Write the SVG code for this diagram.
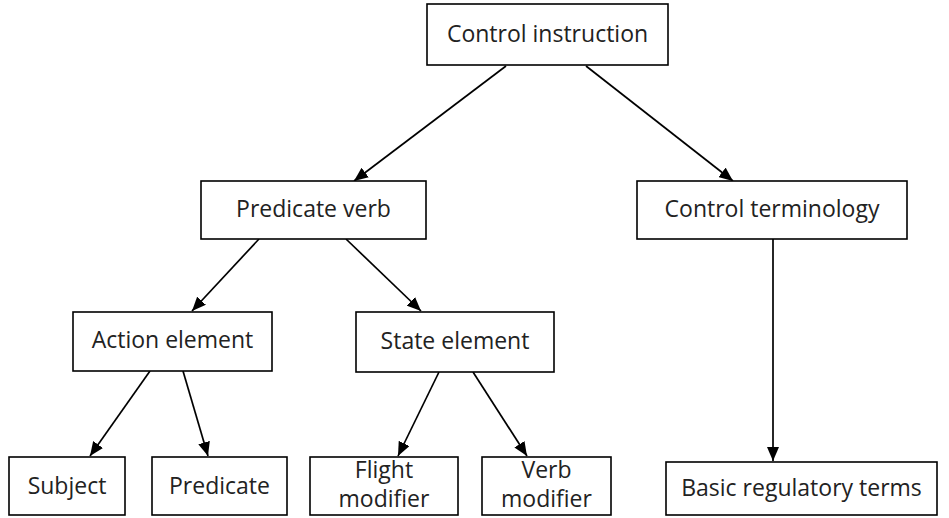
<svg xmlns="http://www.w3.org/2000/svg" width="949" height="518" viewBox="0 0 949 518">
<style>
.box{fill:#fff;stroke:#000;stroke-width:1.6}
.lbl{font-family:"Open Sans","Liberation Sans",sans-serif;font-size:23px;fill:#222;text-anchor:middle}
.edge{stroke:#000;stroke-width:1.7;fill:none;marker-end:url(#arr)}
</style>
<defs>
<marker id="arr" viewBox="0 0 14 12" refX="14" refY="6" markerWidth="14" markerHeight="12" markerUnits="userSpaceOnUse" orient="auto">
<path d="M0,0 L14,6 L0,12 Z" fill="#000"/>
</marker>
</defs>
<rect width="949" height="518" fill="#fff"/>
<g id="connectors">
<line class="edge" x1="506" y1="66" x2="354" y2="181"/>
<line class="edge" x1="586" y1="66" x2="733" y2="181"/>
<line class="edge" x1="259" y1="239" x2="192" y2="311"/>
<line class="edge" x1="346" y1="239" x2="421" y2="311"/>
<line class="edge" x1="150" y1="371" x2="90" y2="456"/>
<line class="edge" x1="183" y1="371" x2="208" y2="456"/>
<line class="edge" x1="439" y1="372" x2="398" y2="456"/>
<line class="edge" x1="473" y1="372" x2="527" y2="456"/>
<line class="edge" x1="773" y1="239" x2="773" y2="461"/>
</g>
<g id="n-control-instruction">
<rect class="box" x="427" y="4" width="241" height="61"/>
<text class="lbl" x="547.5" y="42">Control instruction</text>
</g>
<g id="n-predicate-verb">
<rect class="box" x="201" y="181" width="225" height="58"/>
<text class="lbl" x="313.5" y="217">Predicate verb</text>
</g>
<g id="n-control-terminology">
<rect class="box" x="637" y="181" width="270" height="58"/>
<text class="lbl" x="772" y="217">Control terminology</text>
</g>
<g id="n-action-element">
<rect class="box" x="73" y="312" width="199" height="59"/>
<text class="lbl" x="172.5" y="348">Action element</text>
</g>
<g id="n-state-element">
<rect class="box" x="356" y="312" width="198" height="60"/>
<text class="lbl" x="455" y="349">State element</text>
</g>
<g id="n-subject">
<rect class="box" x="9" y="457" width="116" height="58"/>
<text class="lbl" x="67" y="494">Subject</text>
</g>
<g id="n-predicate">
<rect class="box" x="152" y="457" width="135" height="58"/>
<text class="lbl" x="219.5" y="494">Predicate</text>
</g>
<g id="n-flight-modifier">
<rect class="box" x="310" y="457" width="148" height="58"/>
<text class="lbl" x="384" y="478">Flight</text>
<text class="lbl" x="384" y="507">modifier</text>
</g>
<g id="n-verb-modifier">
<rect class="box" x="482" y="457" width="129" height="58"/>
<text class="lbl" x="546.5" y="478">Verb</text>
<text class="lbl" x="546.5" y="507">modifier</text>
</g>
<g id="n-basic-regulatory-terms">
<rect class="box" x="666" y="462" width="271" height="53"/>
<text class="lbl" x="801.5" y="496">Basic regulatory terms</text>
</g>
</svg>
